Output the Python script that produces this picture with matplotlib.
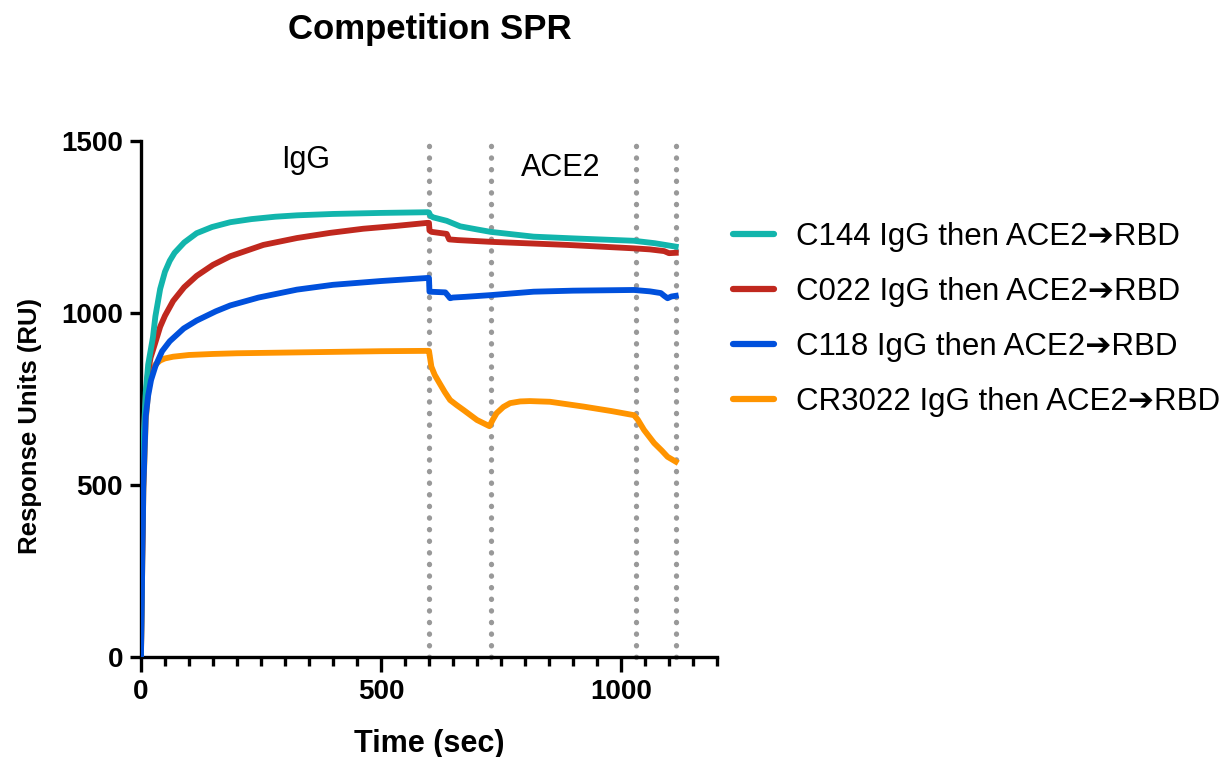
import numpy as np
import matplotlib
matplotlib.use("Agg")
import matplotlib.pyplot as plt

plt.rcParams['font.family'] = ['Liberation Sans', 'DejaVu Sans']

# ----------------------------------
# data (time in sec, response in RU)
# ----------------------------------
c144_t = [0, 2, 4, 6, 10, 15, 20, 25, 30, 40, 50, 60, 70, 90, 116, 148, 186, 230, 280, 325, 400, 500, 598,
          600, 603, 609, 637, 665, 700, 728, 818, 900, 1027, 1070, 1114]
c144_ru = [0, 300, 500, 650, 770, 850, 890, 930, 990, 1070, 1120, 1152, 1175, 1205, 1232, 1250, 1264, 1273, 1280, 1284, 1288, 1291, 1293,
           1292, 1283, 1278, 1268, 1252, 1243, 1236, 1222, 1217, 1210, 1203, 1193]

c022_t = [0, 2, 4, 6, 10, 15, 20, 29, 40, 50, 67, 90, 116, 150, 186, 255, 325, 394, 463, 530, 596,
          600, 601, 605, 637, 642, 660, 728, 888, 1027, 1060, 1090, 1100, 1114]
c022_ru = [0, 250, 450, 650, 760, 830, 870, 910, 960, 992, 1035, 1075, 1108, 1140, 1165, 1198, 1218, 1233, 1245, 1253, 1262,
           1262, 1240, 1236, 1230, 1214, 1212, 1207, 1198, 1188, 1185, 1180, 1174, 1175]

c118_t = [0, 2, 5, 10, 15, 21, 30, 44, 60, 89, 116, 156, 186, 245, 325, 400, 500, 598,
          600, 601, 634, 640, 644, 650, 675, 728, 818, 900, 1027, 1060, 1083, 1090, 1097, 1105, 1114]
c118_ru = [0, 200, 494, 700, 760, 805, 845, 889, 918, 955, 978, 1005, 1022, 1045, 1068, 1082, 1093, 1102,
           1102, 1062, 1060, 1050, 1043, 1045, 1047, 1052, 1062, 1065, 1067, 1063, 1058, 1050, 1043, 1048, 1050]

cr3022_t = [0, 2, 5, 10, 15, 20, 25, 30, 40, 50, 67, 100, 150, 200, 300, 400, 500, 598,
            600, 605, 612, 622, 633, 644, 658, 672, 700, 726, 733, 741, 755, 769, 790, 810, 852, 922, 980, 1027,
            1035, 1048, 1069, 1085, 1097, 1114]
cr3022_ru = [0, 200, 480, 690, 770, 810, 835, 850, 862, 868, 873, 878, 881, 883, 885, 887, 889, 890,
             890, 844, 820, 796, 770, 747, 732, 718, 689, 671, 690, 709, 727, 738, 743, 744, 742, 728, 715, 703,
             690, 660, 622, 600, 582, 568]

phase_lines = [600, 730, 1032, 1115]

labels = ['C144 IgG then ACE2\u2794RBD', 'C022 IgG then ACE2\u2794RBD',
          'C118 IgG then ACE2\u2794RBD', 'CR3022 IgG then ACE2\u2794RBD']
colors = ['#12B5AC', '#C0281E', '#0050DC', '#FF9400']

# ----------------------------------
# figure
# ----------------------------------
fig = plt.figure(figsize=(12.29, 7.57), dpi=100)
ax = fig.add_axes([0.1147, 0.1321, 0.4687, 0.6816])

for x in phase_lines:
    ax.plot([x, x], [0, 1512], color='#999999', lw=3.8, linestyle=(0, (0.05, 2.15)),
            dash_capstyle='round', clip_on=False, zorder=1)

series = [(c144_t, c144_ru), (c022_t, c022_ru), (c118_t, c118_ru), (cr3022_t, cr3022_ru)]
handles = [None] * 4
for i in [3, 1, 0, 2]:
    t, ru = series[i]
    h, = ax.plot(t, ru, color=colors[i], lw=4.2, solid_joinstyle='round', zorder=3)
    handles[i] = h

ax.text(342, 1445, 'IgG', fontsize=22, ha='center', va='center')
ax.text(874, 1422, 'ACE2', fontsize=22, ha='center', va='center')

ax.set_xlim(0, 1200)
ax.set_ylim(0, 1500)
ax.set_xticks([0, 500, 1000])
ax.set_xticks(np.arange(0, 1201, 50), minor=True)
ax.set_yticks([0, 500, 1000, 1500])

for s in ['top', 'right']:
    ax.spines[s].set_visible(False)
for s in ['left', 'bottom']:
    ax.spines[s].set_linewidth(2.4)

ax.tick_params(axis='x', which='major', length=11, width=2.4, labelsize=20, pad=5)
ax.tick_params(axis='x', which='minor', length=6.5, width=2.4)
ax.tick_params(axis='y', which='major', length=8, width=2.4, labelsize=20, pad=5)
for lab in ax.get_xticklabels() + ax.get_yticklabels():
    lab.set_fontweight('bold')

ax.set_xlabel('Time (sec)', fontsize=22, fontweight='bold', labelpad=17)
ax.set_ylabel('Response Units (RU)', fontsize=18.5, fontweight='bold')
ax.yaxis.set_label_coords(-0.171, 0.448)
fig.text(0.35, 1 - 30 / 757, 'Competition SPR', fontsize=25, fontweight='bold',
         ha='center', va='center')

leg = fig.legend(handles, labels, loc='upper left', bbox_to_anchor=(0.5735, 0.7437),
                 frameon=False, fontsize=22.5, handlelength=1.3, handletextpad=0.72,
                 labelspacing=0.8)
for line in leg.get_lines():
    line.set_linewidth(4.5)
    line.set_solid_capstyle('round')

fig.savefig('out.png', dpi=100)
